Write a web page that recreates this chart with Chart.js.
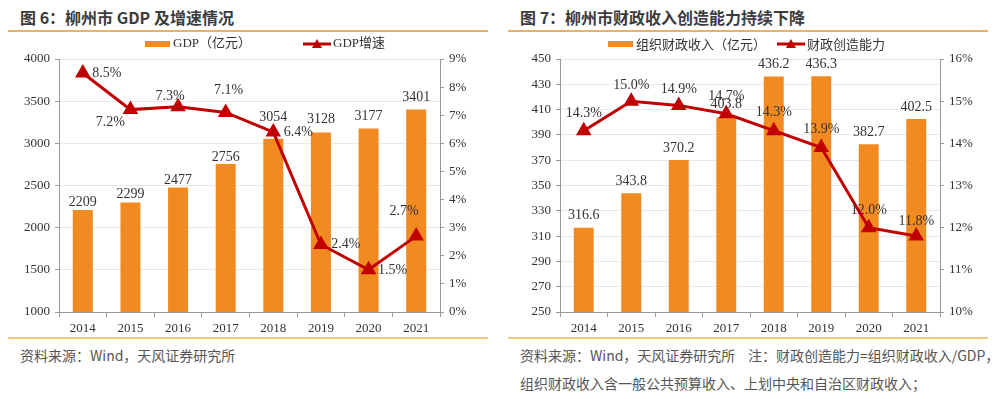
<!DOCTYPE html>
<html><head><meta charset="utf-8">
<script src="https://cdn.jsdelivr.net/npm/chart.js@4"></script>
<style>
body{margin:0;width:1000px;height:399px;background:#fff;position:relative;overflow:hidden;font-family:"Noto Sans CJK SC",sans-serif;}
.title{position:absolute;top:5px;font-size:16px;font-weight:bold;color:#3c3c3c;line-height:24px;white-space:nowrap;}
.rule{position:absolute;height:2px;background:#EBB060;}
.rule2{position:absolute;height:2px;background:#F0C98A;}
.foot{position:absolute;font-size:14px;color:#555;line-height:20px;white-space:nowrap;}
canvas{position:absolute;top:34px;}
</style></head>
<body>
<div class="title" style="left:20px">图 6：柳州市 GDP 及增速情况</div>
<div class="title" style="left:520px">图 7：柳州市财政收入创造能力持续下降</div>
<div class="rule" style="left:8px;width:480px;top:30px"></div>
<div class="rule" style="left:508px;width:480px;top:30px"></div>
<canvas id="c1" width="500" height="304" style="left:0"></canvas>
<canvas id="c2" width="500" height="304" style="left:500px"></canvas>
<div class="rule2" style="left:8px;width:480px;top:337px"></div>
<div class="rule2" style="left:508px;width:480px;top:337px"></div>
<div class="foot" style="left:20px;top:345px">资料来源：Wind，天风证券研究所</div>
<div class="foot" style="left:520px;top:345px">资料来源：Wind，天风证券研究所&nbsp;&nbsp;&nbsp;&nbsp;注：财政创造能力=组织财政收入/GDP，</div>
<div class="foot" style="left:520px;top:373px">组织财政收入含一般公共预算收入、上划中央和自治区财政收入；</div>
<script>
const years = ['2014','2015','2016','2017','2018','2019','2020','2021'];
const gdp = [2209, 2299, 2477, 2756, 3054, 3128, 3177, 3401];
const gdpGrowth = [8.5, 7.2, 7.3, 7.1, 6.4, 2.4, 1.5, 2.7];
const fiscal = [316.6, 343.8, 370.2, 403.8, 436.2, 436.3, 382.7, 402.5];
const fiscalRatio = [14.3, 15.0, 14.9, 14.7, 14.3, 13.9, 12.0, 11.8];
const gdpLegend = ['GDP（亿元）', 'GDP增速'];
const fiscalLegend = ['组织财政收入（亿元）', '财政创造能力'];

// label placement (pixels, style only)
const growthLabelOffsets = [[24,0],[-20,13],[-8,-10],[3,-22],[25,0],[25,0],[24,0],[-12,-25]];
const ratioLabelOffsets = [[0,-17],[0,-16],[0,-16],[0,-17],[0,-18],[0,-18],[0,-17],[0,-15]];
const gdpBarLabelOffsets = [-8,-8,-7,-7,-21,-13,-12,-12];
const fiscalBarLabelOffsets = [-12,-12,-12,-13,-12,-12,-12,-12];

const ORANGE = '#F28A22';
const RED = '#C00000';
const SERIF = '"Liberation Serif","Times New Roman",serif';

const labelPlugin = {
  id: 'vlabels',
  afterDatasetsDraw(chart, args, opts) {
    const ctx = chart.ctx;
    ctx.save();
    ctx.font = '14px ' + SERIF;
    ctx.fillStyle = '#333';
    ctx.textAlign = 'center';
    ctx.textBaseline = 'middle';
    const barMeta = chart.getDatasetMeta(1);
    barMeta.data.forEach((el, i) => {
      const v = chart.data.datasets[1].data[i];
      ctx.fillText(opts.barFmt(v), el.x, el.y + opts.barOffsets[i]);
    });
    const lineMeta = chart.getDatasetMeta(0);
    lineMeta.data.forEach((el, i) => {
      const v = chart.data.datasets[0].data[i];
      const o = opts.lineOffsets[i];
      ctx.fillText(v.toFixed(1) + '%', el.x + o[0], el.y + o[1]);
    });
    ctx.restore();
  }
};

const legendPlugin = {
  id: 'mylegend',
  afterDraw(chart, args, opts) {
    const ctx = chart.ctx;
    ctx.save();
    const y = opts.y;
    ctx.fillStyle = ORANGE;
    ctx.fillRect(opts.barX, y - 3, 25, 6);
    ctx.font = opts.font;
    ctx.fillStyle = '#333';
    ctx.textBaseline = 'middle';
    ctx.textAlign = 'left';
    ctx.fillText(opts.labels[0], opts.barX + 28, y);
    ctx.strokeStyle = RED;
    ctx.lineWidth = 3;
    ctx.beginPath();
    ctx.moveTo(opts.lineX, y);
    ctx.lineTo(opts.lineX + 28, y);
    ctx.stroke();
    ctx.fillStyle = RED;
    const cx = opts.lineX + 14;
    ctx.beginPath();
    ctx.moveTo(cx, y - 5);
    ctx.lineTo(cx + 5, y + 4);
    ctx.lineTo(cx - 5, y + 4);
    ctx.closePath();
    ctx.fill();
    ctx.fillStyle = '#333';
    ctx.fillText(opts.labels[1], opts.lineX + 30, y);
    ctx.restore();
  }
};

function makeChart(id, barData, lineData, yMin, yMax, yStep, y1Min, y1Max, offsets, barOffsets, barFmt, legendLabels, legendOpts) {
  return new Chart(document.getElementById(id), {
    type: 'bar',
    data: {
      labels: years,
      datasets: [
        {type: 'line', data: lineData, yAxisID: 'y1', order: 0,
         borderColor: RED, borderWidth: 3, backgroundColor: RED,
         pointStyle: 'triangle', pointRadius: 6, pointBackgroundColor: RED, pointBorderColor: RED,
         tension: 0},
        {type: 'bar', data: barData, yAxisID: 'y', order: 1,
         backgroundColor: ORANGE, categoryPercentage: 1, barPercentage: 0.42}
      ]
    },
    options: {
      responsive: false,
      animation: false,
      devicePixelRatio: 1,
      layout: {padding: {top: 25, left: 0, right: 0, bottom: 0}},
      plugins: {
        legend: {display: false},
        tooltip: {enabled: false},
        vlabels: {lineOffsets: offsets, barOffsets: barOffsets, barFmt: barFmt},
        mylegend: Object.assign({labels: legendLabels}, legendOpts)
      },
      scales: {
        x: {
          offset: true,
          grid: {offset: true, drawOnChartArea: false, drawTicks: true, tickLength: 5, color: '#999'},
          border: {color: '#999'},
          ticks: {font: {family: SERIF, size: 13}, color: '#333', padding: 4, maxRotation: 0},
          afterFit: s => { s.height = 26; }
        },
        y: {
          position: 'left', min: yMin, max: yMax,
          ticks: {stepSize: yStep, callback: v => String(v), font: {family: SERIF, size: 13}, color: '#333', padding: 5},
          grid: {color: '#e9e9e9', tickColor: '#999', tickLength: 4},
          border: {color: '#999'},
          afterFit: s => { s.width = (id === 'c1') ? 59 : 60; }
        },
        y1: {
          position: 'right', min: y1Min, max: y1Max,
          ticks: {stepSize: 1, callback: v => v + '%', font: {family: SERIF, size: 13}, color: '#333', padding: 5},
          grid: {drawOnChartArea: false, tickColor: '#999', tickLength: 4},
          border: {color: '#999'},
          afterFit: s => { s.width = 60; }
        }
      }
    },
    plugins: [labelPlugin, legendPlugin]
  });
}

makeChart('c1', gdp, gdpGrowth, 1000, 4000, 500, 0, 9, growthLabelOffsets, gdpBarLabelOffsets,
  v => String(v), gdpLegend,
  {y: 10, barX: 145, lineX: 303, font: '13px ' + SERIF + ',"Noto Sans CJK SC"'});
makeChart('c2', fiscal, fiscalRatio, 250, 450, 20, 10, 16, ratioLabelOffsets, fiscalBarLabelOffsets,
  v => v.toFixed(1), fiscalLegend,
  {y: 10, barX: 108, lineX: 277, font: '13px "Noto Sans CJK SC",sans-serif'});
</script>
</body></html>
